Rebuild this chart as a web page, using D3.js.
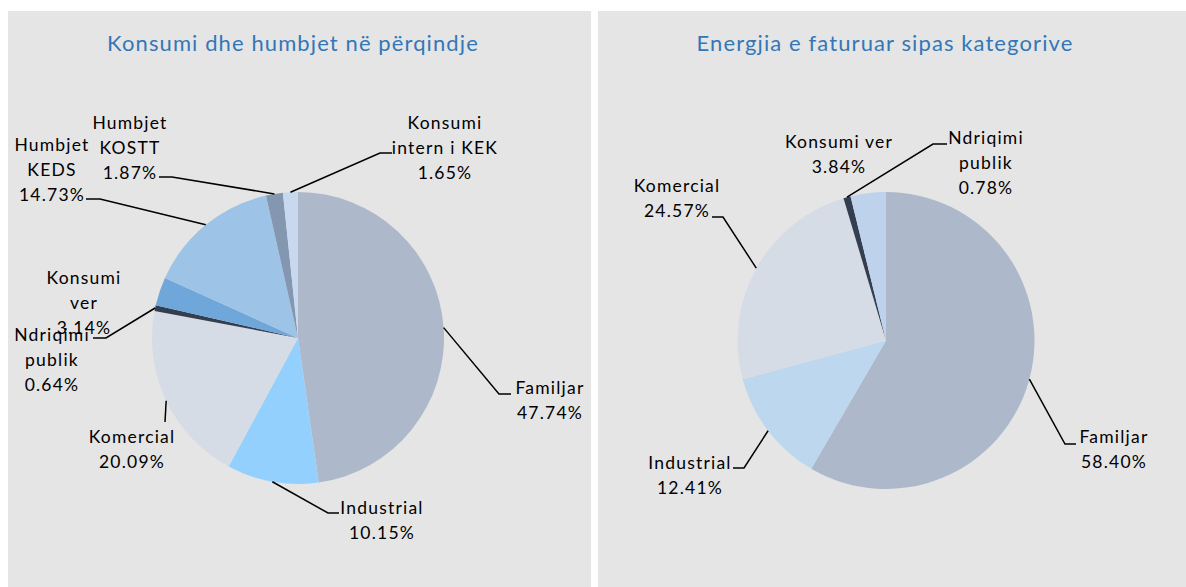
<!DOCTYPE html>
<html>
<head>
<meta charset="utf-8">
<script src="https://cdn.jsdelivr.net/npm/d3@7"></script>
<style>
  body { margin: 0; background: #ffffff; }
  svg { display: block; font-family: Lato, "Open Sans", sans-serif; }
</style>
</head>
<body>
<svg id="chart" width="1186" height="587"></svg>
<script>
// Left chart data
const leftTitle = "Konsumi dhe humbjet në përqindje";
const leftCategories = ["Familjar", "Industrial", "Komercial", "Ndriqimi publik",
  "Konsumi ver", "Humbjet KEDS", "Humbjet KOSTT", "Konsumi intern i KEK"];
const leftValues = [47.74, 10.15, 20.09, 0.64, 3.14, 14.73, 1.87, 1.65];

// Right chart data
const rightTitle = "Energjia e faturuar sipas kategorive";
const rightCategories = ["Familjar", "Industrial", "Komercial", "Ndriqimi publik", "Konsumi ver"];
const rightValues = [58.40, 12.41, 24.57, 0.78, 3.84];

// Slice colours
const leftColors = ["#adb9ca", "#93d0fe", "#d6dce5", "#333f50", "#6fa7da", "#9dc3e6", "#8497b0", "#c8d8ee"];
const rightColors = ["#adb9ca", "#bdd7ee", "#d6dce5", "#333f50", "#bed2ec"];

// Label layout: text lines, text centre, leader elbow and end
const leftLabels = [
  { lines: ["Familjar"], x: 550, y: 388, elbow: [499, 394], end: 511 },
  { lines: ["Industrial"], x: 382, y: 508, elbow: [328, 513], end: 339 },
  { lines: ["Komercial"], x: 132, y: 437, elbow: [165, 422], end: 165 },
  { lines: ["Ndriqimi", "publik"], x: 52, y: 335, elbow: [106, 338], end: 93 },
  { lines: ["Konsumi", "ver"], x: 84, y: 278, elbow: null },
  { lines: ["Humbjet", "KEDS"], x: 52, y: 145, elbow: [100, 199], end: 86 },
  { lines: ["Humbjet", "KOSTT"], x: 130, y: 123, elbow: [172, 177], end: 159 },
  { lines: ["Konsumi", "intern i KEK"], x: 445, y: 123, elbow: [380, 153], end: 392 }
];
const rightLabels = [
  { lines: ["Familjar"], x: 1114, y: 437, elbow: [1065, 444], end: 1076 },
  { lines: ["Industrial"], x: 690, y: 463, elbow: [744, 468], end: 733 },
  { lines: ["Komercial"], x: 677, y: 186, elbow: [723, 217], end: 712 },
  { lines: ["Ndriqimi", "publik"], x: 986, y: 138, elbow: [933, 144], end: 947 },
  { lines: ["Konsumi ver"], x: 839, y: 142, elbow: null }
];

const svg = d3.select("#chart");
const fmt = d3.format(".2f");
const lineHeight = 25;

const drawPanel = (opts) => {
  const { x0, width, title, titleX, categories, values, colors, labels, cx, cy, r } = opts;

  // panel background
  svg.append("rect")
    .attr("x", x0)
    .attr("y", 11)
    .attr("width", width)
    .attr("height", 587 - 11)
    .attr("fill", "#e5e5e5");

  // title
  svg.append("text")
    .attr("x", titleX)
    .attr("y", 43)
    .attr("dy", "0.35em")
    .attr("text-anchor", "middle")
    .attr("font-size", "22px")
    .attr("letter-spacing", "1.1px")
    .attr("fill", "#3277b8")
    .text(title);

  const data = categories.map((c, i) => ({ name: c, value: values[i], color: colors[i], label: labels[i] }));

  const pie = d3.pie().sort(null).value(d => d.value);
  const arc = d3.arc().innerRadius(0).outerRadius(r);
  const arcs = pie(data);

  const g = svg.append("g").attr("transform", `translate(${cx},${cy})`);

  g.selectAll("path")
    .data(arcs)
    .join("path")
    .attr("d", arc)
    .attr("fill", d => d.data.color);

  // leader lines
  svg.selectAll(null)
    .data(arcs.filter(d => d.data.label.elbow))
    .join("polyline")
    .attr("points", d => {
      const mid = (d.startAngle + d.endAngle) / 2;
      const sx = cx + r * Math.sin(mid);
      const sy = cy - r * Math.cos(mid);
      const [ex, ey] = d.data.label.elbow;
      return `${sx},${sy} ${ex},${ey} ${d.data.label.end},${ey}`;
    })
    .attr("fill", "none")
    .attr("stroke", "#000")
    .attr("stroke-width", 1.5);

  // labels
  const lbl = svg.selectAll(null)
    .data(arcs)
    .join("text")
    .attr("text-anchor", "middle")
    .attr("font-size", "17.5px")
    .attr("letter-spacing", "1.2px")
    .attr("fill", "#000");

  lbl.selectAll("tspan")
    .data(d => d.data.label.lines.concat([fmt(d.data.value) + "%"])
      .map((t, i) => ({ t, i, lab: d.data.label })))
    .join("tspan")
    .attr("x", d => d.lab.x)
    .attr("y", d => d.lab.y + d.i * lineHeight)
    .attr("dy", "0.35em")
    .text(d => d.t);
};

drawPanel({
  x0: 8, width: 583, title: leftTitle, titleX: 293,
  categories: leftCategories, values: leftValues, colors: leftColors, labels: leftLabels,
  cx: 298, cy: 338, r: 146
});

drawPanel({
  x0: 598, width: 588, title: rightTitle, titleX: 885,
  categories: rightCategories, values: rightValues, colors: rightColors, labels: rightLabels,
  cx: 886, cy: 340.5, r: 148.5
});
</script>
</body>
</html>
